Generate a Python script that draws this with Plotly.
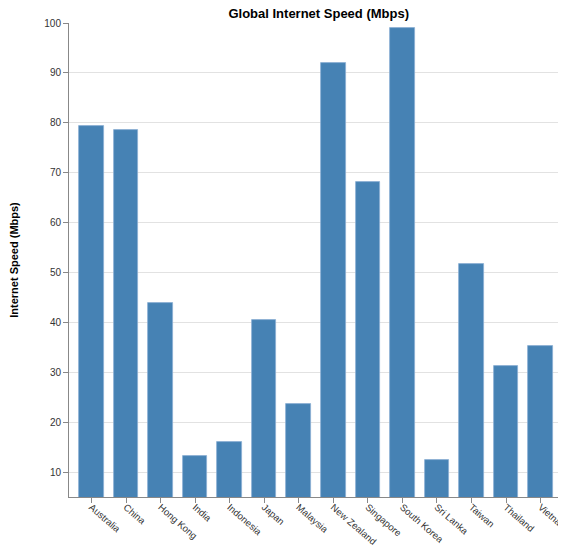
import plotly.graph_objects as go

countries = ["Australia", "China", "Hong Kong", "India", "Indonesia", "Japan", "Malaysia",
             "New Zealand", "Singapore", "South Korea", "Sri Lanka", "Taiwan", "Thailand", "Vietnam"]
speeds = [79.3, 78.6, 43.8, 13.3, 16.0, 40.4, 23.6, 92.0, 68.2, 98.9, 12.5, 51.6, 31.3, 35.3]
y_ticks = [10, 20, 30, 40, 50, 60, 70, 80, 90, 100]

FONT = "Liberation Sans, Arial, Helvetica, sans-serif"

fig = go.Figure(go.Bar(
    x=countries, y=speeds,
    width=0.71,
    marker=dict(color="#4682b4", line=dict(color="#8aaed3", width=0.8)),
))

# page body has an 8px margin; compensate so the plot lands where the reference has it
fig.update_layout(
    width=566, height=547,
    margin=dict(l=61, r=11, t=15, b=58, autoexpand=False),
    plot_bgcolor="white", paper_bgcolor="white",
    showlegend=False,
    font=dict(family=FONT, size=10, color="#333"),
    title=dict(text="<b>Global Internet Speed (Mbps)</b>", x=0.549, xanchor="center",
               y=0.99, yanchor="middle", font=dict(family=FONT, size=13, color="#000")),
    bargap=0,
)
fig.update_xaxes(
    range=[-0.65, 13.65], tickangle=41, automargin=False,
    showline=True, linecolor="#888", linewidth=1,
    ticks="outside", ticklen=5, tickcolor="#888",
    ticklabelstandoff=-5,
    showgrid=False, tickfont=dict(size=9.6, color="#333"),
)
fig.update_yaxes(
    range=[5, 100], tickvals=y_ticks, ticktext=[str(v) for v in y_ticks],
    automargin=False,
    showline=True, linecolor="#888", linewidth=1,
    ticks="outside", ticklen=5, tickcolor="#888",
    showgrid=True, gridcolor="#e2e2e2", gridwidth=1, zeroline=False,
    tickfont=dict(size=10, color="#333"),
    title=dict(text="<b>Internet Speed (Mbps)</b>", font=dict(size=11, color="#000"), standoff=31),
)

fig.write_html("out.html")
